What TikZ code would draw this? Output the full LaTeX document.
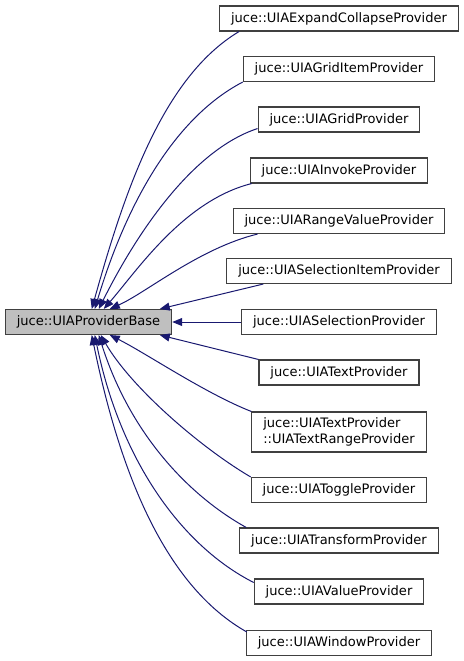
\documentclass[tikz,border=0pt]{standalone}
\usepackage{fontspec}
\setmainfont{DejaVu Sans}
\usepackage{tikz}
\usetikzlibrary{arrows.meta,calc}
\definecolor{edgeblue}{HTML}{191970}
\definecolor{boxline}{HTML}{404040}
\definecolor{basefill}{HTML}{BFBFBF}

\begin{document}
\begin{tikzpicture}[x=0.75pt,y=-0.75pt,font=\fontsize{9.77pt}{11.5pt}\selectfont,
  cls/.style={draw=boxline,fill=white,line width=0.8pt,inner xsep=8.6pt,inner ysep=0pt,minimum height=18.75pt,align=left},
  basecls/.style={cls,fill=basefill},
  inh/.style={draw=edgeblue,line width=0.75pt,-{Triangle[length=7.5pt,width=6pt]}}]
\useasboundingbox (0,0) rectangle (464,661);
% the derived classes, one column on the right
\foreach \n/\y/\t in {ec/18.5/{juce::UIAExpandCollapseProvider}, gi/69/{juce::UIAGridItemProvider},
  gr/119.5/{juce::UIAGridProvider}, iv/170.5/{juce::UIAInvokeProvider}, rv/221/{juce::UIARangeValueProvider},
  si/271/{juce::UIASelectionItemProvider}, se/322/{juce::UIASelectionProvider}, tx/372.5/{juce::UIATextProvider},
  tg/490/{juce::UIAToggleProvider}, tf/540.5/{juce::UIATransformProvider}, va/591.5/{juce::UIAValueProvider},
  wi/643/{juce::UIAWindowProvider}}{
  \node[cls] (\n) at (339,\y) {\t};}
\node[cls,minimum height=30pt] (tr) at (339,432) {juce::UIATextProvider\\::UIATextRangeProvider};
% the base class
\node[basecls] (base) at (88.5,322) {juce::UIAProviderBase};
% edges into the top of the base
\draw[inh] ($(ec.south west)+(20,0)$) .. controls +(-77,46) and +(32,-115) .. ($(base.north west)+(87,0)$);
\draw[inh] (gi.south west) .. controls +(-71,37) and +(30,-100) .. ($(base.north west)+(90,0)$);
\draw[inh] ($(gr.south west)+(0,-4)$) .. controls +(-67,22) and +(36,-72) .. ($(base.north west)+(94,0)$);
\draw[inh] ($(iv.south west)+(2,0)$) .. controls +(-68,17) and +(33,-38) .. ($(base.north west)+(99,0)$);
\draw[inh] ($(rv.south west)+(25,0)$) .. controls +(-58,14) and +(36,-16) .. ($(base.north west)+(105,0)$);
\draw[inh] ($(si.south west)+(37,0)$) -- ($(base.north west)+(155,0)$);
\draw[inh] (se.west) -- (base.east);
% edges into the bottom of the base
\draw[inh] (tx.north west) -- ($(base.south west)+(155,0)$);
\draw[inh] (tr.north west) .. controls +(-46,-18) and +(36,18) .. ($(base.south west)+(105,0)$);
\draw[inh] (tg.north west) .. controls +(-51,-30) and +(30,52) .. ($(base.south west)+(96,0)$);
\draw[inh] ($(tf.north west)+(7,0)$) .. controls +(-61,-34) and +(30,95) .. ($(base.south west)+(94,0)$);
\draw[inh] ($(va.north west)+(0,4)$) .. controls +(-71,-36) and +(26,127) .. ($(base.south west)+(90,0)$);
\draw[inh] ($(wi.north west)+(1,2)$) .. controls +(-78,-44) and +(30,147) .. ($(base.south west)+(87,0)$);
\end{tikzpicture}
\end{document}
